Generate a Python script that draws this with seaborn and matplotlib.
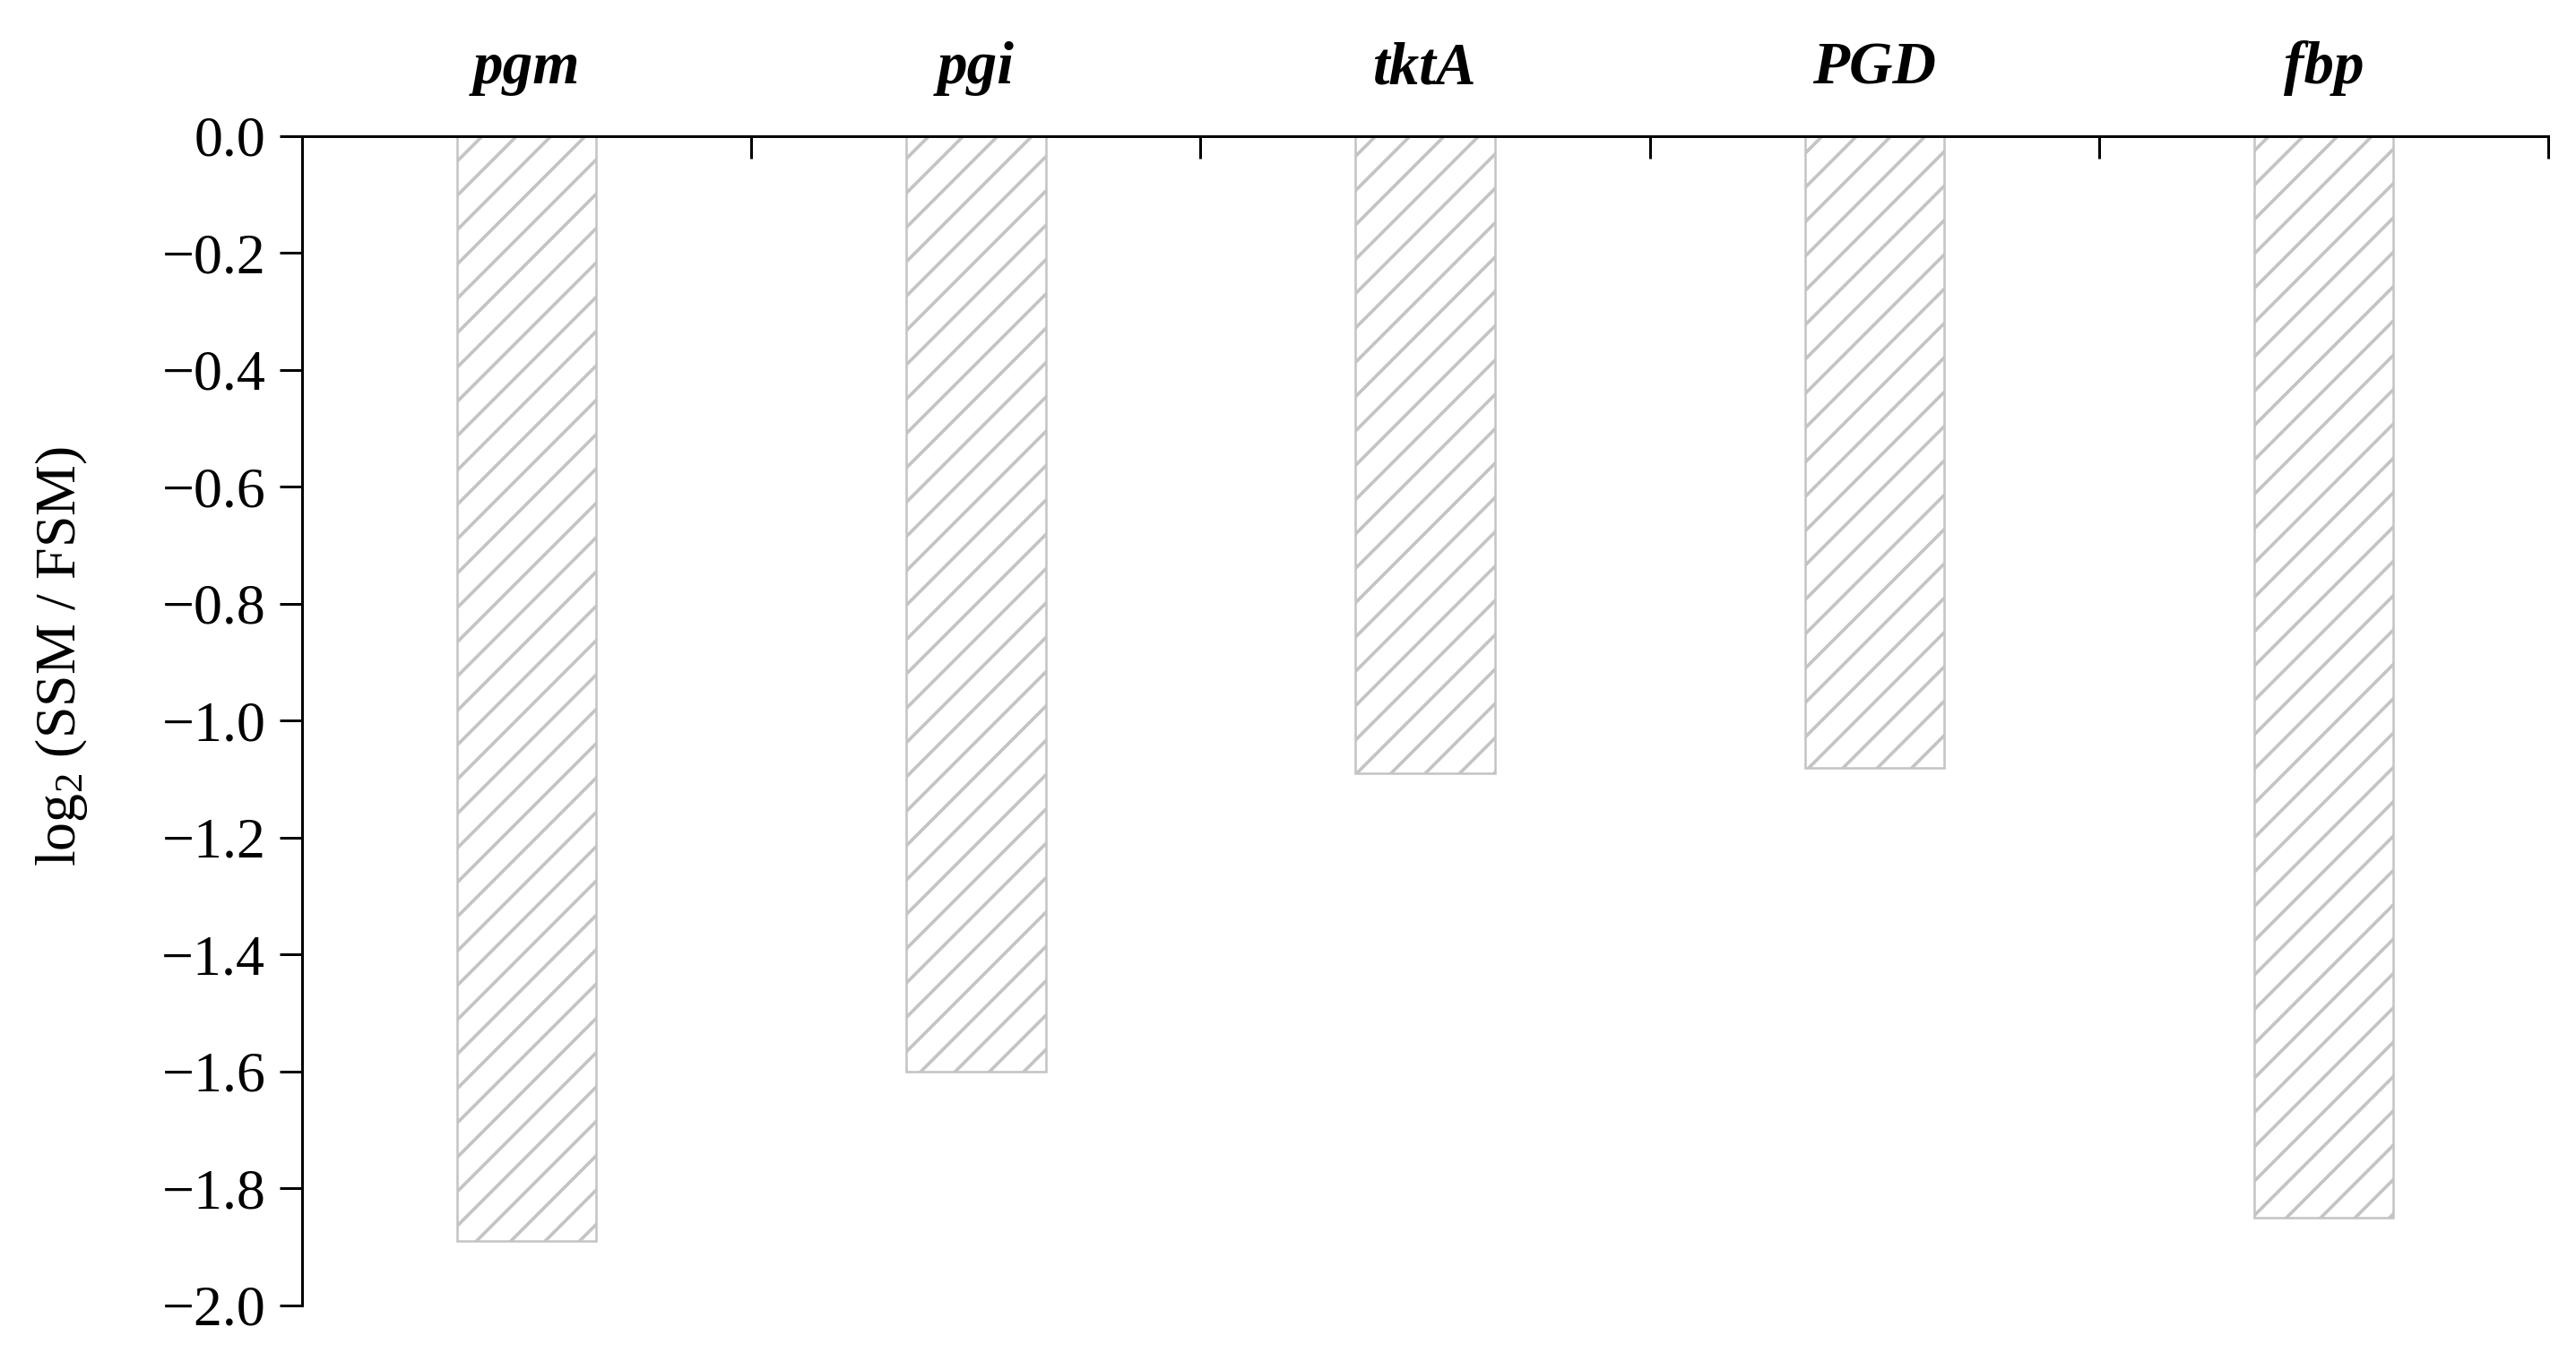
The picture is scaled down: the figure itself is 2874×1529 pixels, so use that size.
import matplotlib
matplotlib.use("Agg")
import matplotlib.pyplot as plt
import seaborn as sns
import pandas as pd

genes = ["pgm", "pgi", "tktA", "PGD", "fbp"]
log2_ratio = [-1.89, -1.60, -1.09, -1.08, -1.85]
yticks = [0.0, -0.2, -0.4, -0.6, -0.8, -1.0, -1.2, -1.4, -1.6, -1.8, -2.0]

sns.set_theme(style="white")
plt.rcParams["font.family"] = ["Liberation Serif", "DejaVu Serif"]
plt.rcParams["mathtext.fontset"] = "custom"
plt.rcParams["mathtext.rm"] = "Liberation Serif"
plt.rcParams["mathtext.default"] = "regular"
plt.rcParams["hatch.linewidth"] = 1.15
plt.rcParams["hatch.color"] = "#c4c4c4"
plt.rcParams["axes.unicode_minus"] = True
for key in ["text.color", "axes.labelcolor", "xtick.color", "ytick.color"]:
    plt.rcParams[key] = "black"

DPI = 230
fig = plt.figure(figsize=(2874 / DPI, 1529 / DPI), dpi=DPI)
ax = fig.add_axes([0.1173, 0.0471, 0.9892 - 0.1173, 0.9006 - 0.0471])

df = pd.DataFrame({"gene": genes, "value": log2_ratio})
sns.barplot(data=df, x="gene", y="value", order=genes, width=0.31,
            color="white", edgecolor="#c4c4c4", linewidth=0.8, ax=ax)
for p in ax.patches:
    p.set_hatch("//")
    p.set_facecolor("white")
    p.set_edgecolor("#c4c4c4")

ax.set_xlim(-0.5, len(genes) - 0.5)
ax.set_ylim(-2.0, 0.0)
ax.set_yticks(yticks)
ax.set_yticklabels([f"{v:.1f}".replace("-", "\u2212") for v in yticks], fontsize=20)

# x axis on top: boundary ticks (major) and category labels (minor)
ax.xaxis.tick_top()
ax.set_xticks([i - 0.5 for i in range(len(genes) + 1)])
ax.set_xticklabels([])
ax.set_xticks(range(len(genes)), minor=True)
ax.set_xticklabels(genes, minor=True, fontsize=21, fontweight="bold", fontstyle="italic")
ax.tick_params(axis="x", which="major", top=True, bottom=False, direction="in",
               length=7.8, width=0.94, color="black", labeltop=False, labelbottom=False)
ax.tick_params(axis="x", which="minor", top=True, bottom=False, length=0,
               pad=14, labeltop=True, labelbottom=False, labelcolor="black")
ax.tick_params(axis="y", which="major", left=True, direction="out",
               length=7.8, width=0.94, color="black", pad=5, labelcolor="black")
ax.set_xlabel("")

for side in ["bottom", "right"]:
    ax.spines[side].set_visible(False)
for side in ["top", "left"]:
    ax.spines[side].set_visible(True)
    ax.spines[side].set_color("black")
    ax.spines[side].set_linewidth(0.94)

ax.set_ylabel(r"log$_{\mathregular{2}}$ (SSM / FSM)", fontsize=20, color="black")
ax.yaxis.set_label_coords(-0.0946, 0.555)

fig.savefig("out.png", dpi=DPI, facecolor="white")
